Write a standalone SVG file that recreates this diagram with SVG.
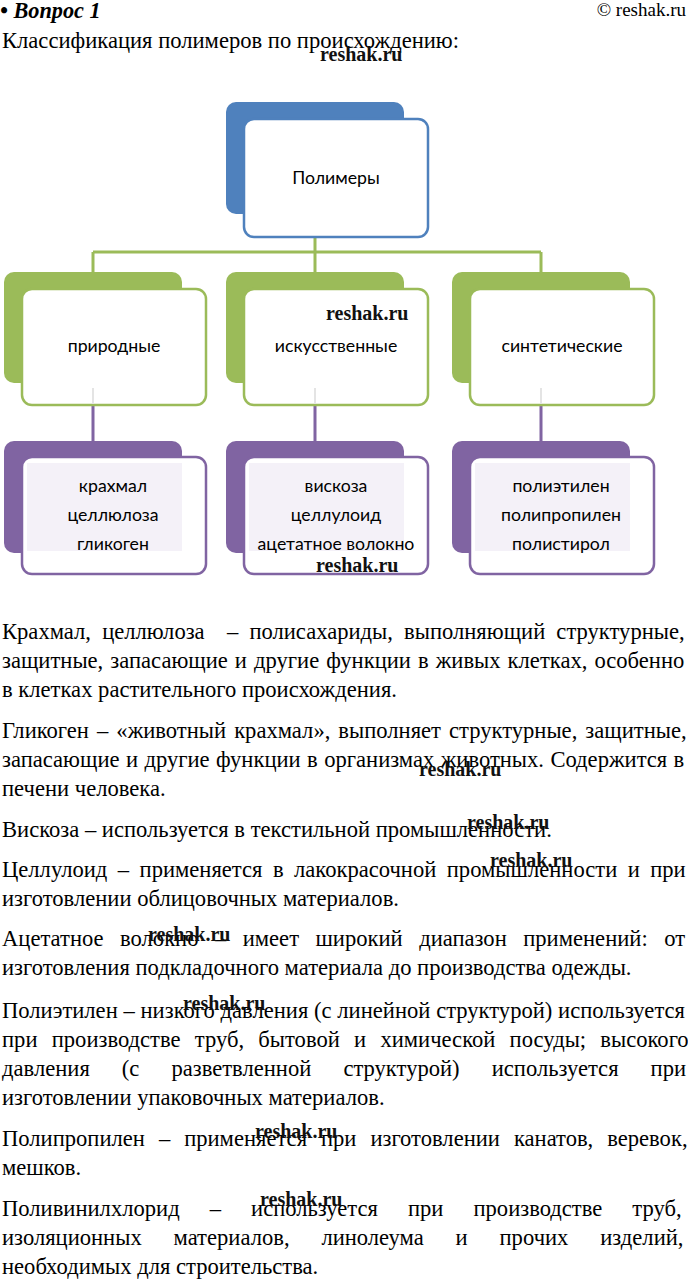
<svg xmlns="http://www.w3.org/2000/svg" width="688" height="1281" viewBox="0 0 688 1281">
<style>
.t{font-family:"Liberation Serif","Times New Roman",serif;font-size:22.6px;fill:#000;white-space:pre}
.h{font-family:"Liberation Serif","Times New Roman",serif;fill:#000}
.wm{font-family:"Liberation Serif","Times New Roman",serif;font-weight:bold;font-size:20px;fill:#111}
.lbl{font-family:Lato,"Noto Sans",sans-serif;font-size:17.7px;fill:#000;text-anchor:middle}
.bb{fill:#4F81BD}.fb{fill:#fff;stroke:#4F81BD;stroke-width:2.5}
.bg{fill:#9BBB59}.fg{fill:#fff;stroke:#9BBB59;stroke-width:2.5}
.bp{fill:#8064A2}.fp{fill:#fff;stroke:#8064A2;stroke-width:2.5}
.lav{fill:#F4F1F8}
.cg{stroke:#9BBB59;stroke-width:3;fill:none}
.cp{stroke:#8064A2;stroke-width:3;fill:none}
.cf{stroke:#E4E4E4;stroke-width:2;fill:none}
</style>
<rect width="688" height="1281" fill="#fff"/>
<g id="header">
<text class="h" x="0" y="18" font-size="22.3" font-weight="bold" font-style="italic">• Вопрос 1</text>
<text class="h" x="686" y="16" font-size="19" text-anchor="end">© reshak.ru</text>
<text class="t" x="2" y="48">Классификация полимеров по происхождению:</text>
</g>
<g id="connectors">
<path class="cg" d="M315 237V252M93 252H541M93 252V272M315 252V272M541 252V272"/>
<path class="cp" d="M93 405V441M315 405V441M541 405V441"/>
</g>
<g id="node-polimery">
<rect class="bb" x="226" y="102" width="178" height="112" rx="10"/>
<rect class="fb" x="244" y="119" width="184" height="118" rx="10"/>
<text class="lbl" x="336" y="184">Полимеры</text>
</g>
<g id="node-prirodnye">
<rect class="bg" x="4" y="272" width="178" height="111" rx="10"/>
<rect class="fg" x="22" y="289" width="184" height="116" rx="10"/>
<path class="cf" d="M93 388V404"/>
<text class="lbl" x="114" y="352">природные</text>
</g>
<g id="node-iskusstvennye">
<rect class="bg" x="226" y="272" width="178" height="111" rx="10"/>
<rect class="fg" x="244" y="289" width="184" height="116" rx="10"/>
<path class="cf" d="M315 388V404"/>
<text class="lbl" x="336" y="352">искусственные</text>
</g>
<g id="node-sinteticheskie">
<rect class="bg" x="452" y="272" width="178" height="111" rx="10"/>
<rect class="fg" x="470" y="289" width="184" height="116" rx="10"/>
<path class="cf" d="M541 388V404"/>
<text class="lbl" x="562" y="352">синтетические</text>
</g>
<g id="node-prirodnye-list">
<rect class="bp" x="4" y="441" width="178" height="112" rx="10"/>
<rect class="fp" x="22" y="457" width="184" height="117" rx="10"/>
<rect class="lav" x="27" y="463" width="155" height="88"/>
<text class="lbl" x="113" y="492">крахмал</text>
<text class="lbl" x="113" y="521">целлюлоза</text>
<text class="lbl" x="113" y="550">гликоген</text>
</g>
<g id="node-iskusstvennye-list">
<rect class="bp" x="226" y="441" width="178" height="112" rx="10"/>
<rect class="fp" x="244" y="457" width="184" height="117" rx="10"/>
<rect class="lav" x="249" y="463" width="155" height="88"/>
<text class="lbl" x="336" y="492">вискоза</text>
<text class="lbl" x="336" y="521">целлулоид</text>
<text class="lbl" x="336" y="550">ацетатное волокно</text>
</g>
<g id="node-sinteticheskie-list">
<rect class="bp" x="452" y="441" width="178" height="112" rx="10"/>
<rect class="fp" x="470" y="457" width="184" height="117" rx="10"/>
<rect class="lav" x="475" y="463" width="155" height="88"/>
<text class="lbl" x="561" y="492">полиэтилен</text>
<text class="lbl" x="561" y="521">полипропилен</text>
<text class="lbl" x="561" y="550">полистирол</text>
</g>
<g id="body">
<text class="t" x="2" y="639" word-spacing="5.5">Крахмал, целлюлоза  – полисахариды, выполняющий структурные,</text>
<text class="t" x="2" y="668" word-spacing="1.4">защитные, запасающие и другие функции в живых клетках, особенно</text>
<text class="t" x="2" y="697">в клетках растительного происхождения.</text>
<text class="t" x="2" y="738" word-spacing="2.4">Гликоген – «животный крахмал», выполняет структурные, защитные,</text>
<text class="t" x="2" y="767" word-spacing="0.75">запасающие и другие функции в организмах животных. Содержится в</text>
<text class="t" x="2" y="796">печени человека.</text>
<text class="t" x="2" y="837">Вискоза – используется в текстильной промышленности.</text>
<text class="t" x="2" y="877" word-spacing="4.8">Целлулоид – применяется в лакокрасочной промышленности и при</text>
<text class="t" x="2" y="906">изготовлении облицовочных материалов.</text>
<text class="t" x="2" y="946" word-spacing="10.8">Ацетатное волокно – имеет широкий диапазон применений: от</text>
<text class="t" x="2" y="975">изготовления подкладочного материала до производства одежды.</text>
<text class="t" x="2" y="1018" word-spacing="0.1">Полиэтилен – низкого давления (с линейной структурой) используется</text>
<text class="t" x="2" y="1047" word-spacing="8.6">при производстве труб, бытовой и химической посуды; высокого</text>
<text class="t" x="2" y="1076" word-spacing="26.4">давления (с разветвленной структурой) используется при</text>
<text class="t" x="2" y="1105">изготовлении упаковочных материалов.</text>
<text class="t" x="2" y="1146" word-spacing="8.3">Полипропилен – применяется при изготовлении канатов, веревок,</text>
<text class="t" x="2" y="1175">мешков.</text>
<text class="t" x="2" y="1216" word-spacing="24.4">Поливинилхлорид – используется при производстве труб,</text>
<text class="t" x="2" y="1245" word-spacing="26.2">изоляционных материалов, линолеума и прочих изделий,</text>
<text class="t" x="2" y="1274">необходимых для строительства.</text>
</g>
<g id="watermarks">
<text class="wm" x="320" y="61">reshak.ru</text>
<text class="wm" x="326" y="320">reshak.ru</text>
<text class="wm" x="316" y="572">reshak.ru</text>
<text class="wm" x="419" y="776">reshak.ru</text>
<text class="wm" x="467" y="829">reshak.ru</text>
<text class="wm" x="490" y="867">reshak.ru</text>
<text class="wm" x="148" y="941">reshak.ru</text>
<text class="wm" x="183" y="1010">reshak.ru</text>
<text class="wm" x="255" y="1138">reshak.ru</text>
<text class="wm" x="260" y="1206">reshak.ru</text>
</g>
</svg>
